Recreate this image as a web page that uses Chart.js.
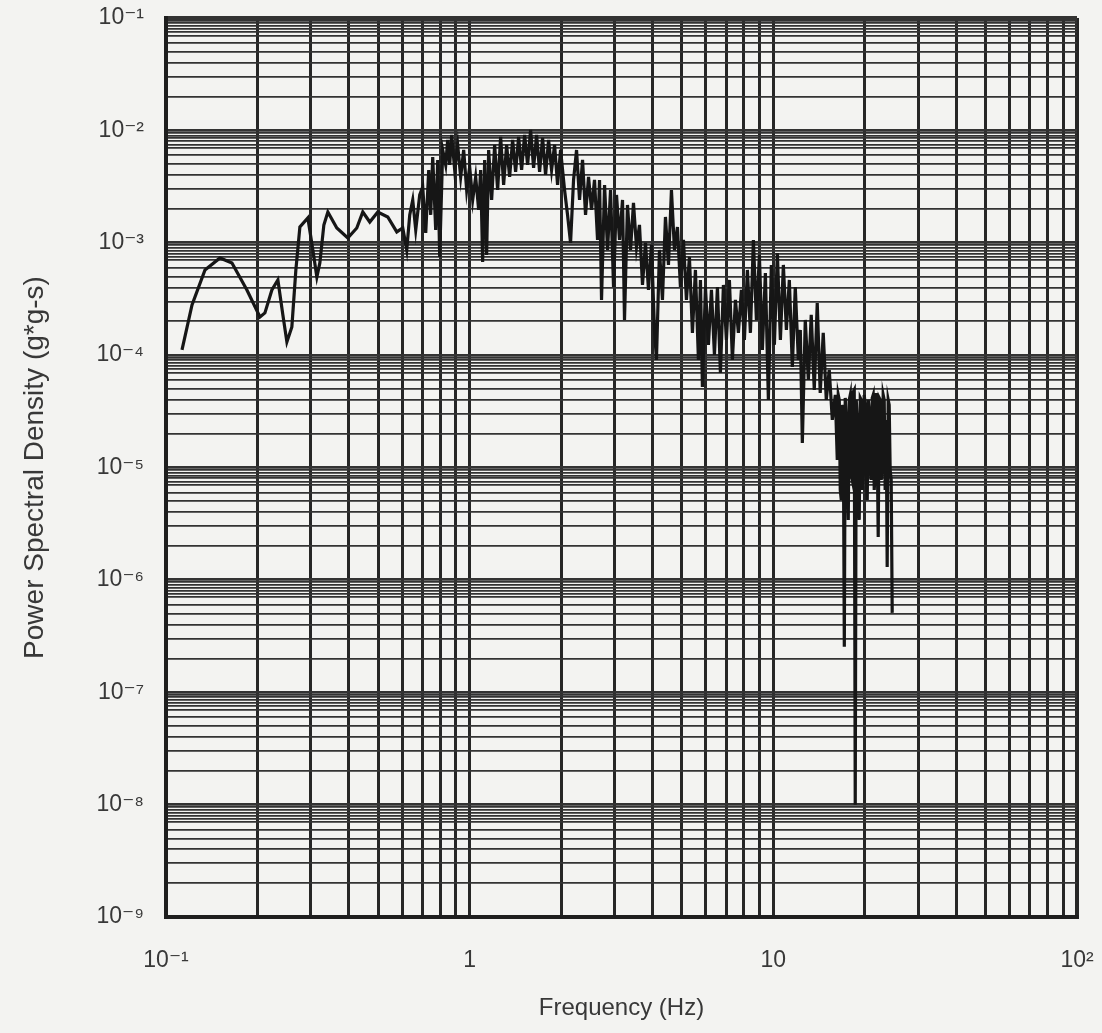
<!DOCTYPE html>
<html>
<head>
<meta charset="utf-8">
<script src="https://cdn.jsdelivr.net/npm/chart.js@4.4.1/dist/chart.umd.min.js"></script>
<style>
  html, body { margin: 0; padding: 0; background: #f3f3f1; }
  canvas { display: block; }
</style>
</head>
<body>
<canvas id="psdChart" width="1102" height="1033"></canvas>
<script>
// PSD trace: frequency (Hz) and power spectral density (g*g-s)
const freqHz = [
  0.1129, 0.1218, 0.1344, 0.1506, 0.1649, 0.1847, 0.2039, 0.2117, 0.2232, 0.2336,
  0.2426, 0.2501, 0.2597, 0.2677, 0.2760, 0.2932, 0.3045, 0.3139, 0.3211, 0.3310,
  0.3412, 0.3652, 0.3969, 0.4249, 0.4447, 0.4689, 0.4982, 0.5374, 0.5754, 0.6021,
  0.6206,
  0.6348, 0.6494, 0.6643, 0.6847, 0.7005, 0.7166, 0.7331, 0.7442, 0.7556, 0.7729,
  0.7848, 0.7967, 0.8151, 0.8338, 0.8465, 0.8594, 0.8725, 0.8926, 0.9131, 0.9341,
  0.9555, 0.9775, 1.000, 1.023, 1.0465, 1.0706, 1.0868, 1.1034, 1.1203, 1.1374,
  1.1548, 1.1813, 1.2085, 1.2362, 1.2646, 1.2937, 1.3234, 1.3539, 1.3850, 1.4168,
  1.4494, 1.4827, 1.5168, 1.5517, 1.5873, 1.6238, 1.6611, 1.6993, 1.7384, 1.7783,
  1.8192, 1.8610, 1.9038, 1.9475, 1.9923, 2.0535, 2.1007, 2.1490, 2.1984, 2.2489,
  2.3006, 2.3535, 2.4076, 2.4629, 2.5195,
  2.577, 2.637, 2.677, 2.718, 2.781, 2.845, 2.910, 2.977, 3.045, 3.115,
  3.187, 3.235, 3.309, 3.386, 3.463, 3.543, 3.624, 3.708, 3.793, 3.880,
  3.969, 4.061, 4.122, 4.217, 4.314, 4.413, 4.515, 4.618, 4.725, 4.833,
  4.944, 5.058, 5.174, 5.293, 5.415, 5.539, 5.667, 5.754, 5.841, 5.976,
  6.113, 6.254, 6.398, 6.545, 6.695, 6.849, 7.006, 7.167, 7.332, 7.501,
  7.673, 7.850, 8.030, 8.215, 8.404, 8.597, 8.794, 8.997, 9.203, 9.415,
  9.631, 9.850, 10.08, 10.31, 10.55, 10.79, 11.04, 11.29, 11.55, 11.81,
  12.09, 12.27, 12.46, 12.74, 13.04, 13.33, 13.64, 13.95, 14.27, 14.60,
  14.94, 15.28, 15.64, 16.00,
  16.24, 16.36, 16.49, 16.61, 16.74, 16.87, 16.99, 17.13, 17.25, 17.39,
  17.52, 17.65, 17.78, 17.92, 18.05, 18.19, 18.33, 18.47, 18.61, 18.75,
  18.89, 19.04, 19.18, 19.33, 19.47, 19.62, 19.77, 19.92, 20.07, 20.23,
  20.38, 20.54, 20.69, 20.85, 21.00, 21.17, 21.32, 21.49, 21.66, 21.82,
  21.99, 22.15, 22.32, 22.49, 22.66, 22.83, 23.00, 23.18, 23.35, 23.53,
  23.71, 23.89, 24.07, 24.25, 24.44, 24.63
];

const psd = [
  1.112e-4, 2.797e-4, 5.728e-4, 7.324e-4, 6.611e-4, 3.802e-4, 2.187e-4, 2.374e-4, 3.802e-4, 4.667e-4,
  2.279e-4, 1.310e-4, 1.782e-4, 5.728e-4, 1.382e-3, 1.662e-3, 8.628e-4, 4.963e-4, 6.611e-4, 1.440e-3,
  1.879e-3, 1.354e-3, 1.103e-3, 1.354e-3, 1.879e-3, 1.531e-3, 1.879e-3, 1.696e-3, 1.248e-3, 1.354e-3,
  8.628e-4,
  1.768e-3, 2.403e-3, 1.300e-3, 2.663e-3, 3.136e-3, 1.222e-3, 4.443e-3, 1.768e-3, 5.799e-3, 1.300e-3,
  5.454e-3, 7.476e-4, 6.693e-3, 4.923e-3, 8.215e-3, 4.923e-3, 9.101e-3, 4.443e-3, 7.415e-3, 3.849e-3,
  6.693e-3, 2.949e-3, 4.725e-3, 2.403e-3, 3.849e-3, 1.958e-3, 4.443e-3, 6.748e-4, 5.454e-3, 7.787e-4,
  6.693e-3, 2.403e-3, 7.415e-3, 2.949e-3, 8.737e-3, 3.268e-3, 7.415e-3, 3.849e-3, 8.215e-3, 4.265e-3,
  8.737e-3, 4.443e-3, 9.101e-3, 4.923e-3, 1.008e-2, 4.629e-3, 9.101e-3, 4.265e-3, 8.558e-3, 4.010e-3,
  8.215e-3, 4.443e-3, 7.415e-3, 3.268e-3, 6.693e-3, 2.949e-3, 1.768e-3, 9.959e-4, 3.621e-3, 6.693e-3,
  2.403e-3, 5.454e-3, 1.768e-3, 3.849e-3, 1.958e-3,
  3.621e-3, 1.059e-3, 3.621e-3, 3.098e-4, 3.268e-3, 8.628e-4, 2.949e-3, 4.043e-4, 2.663e-3, 1.059e-3,
  2.403e-3, 2.057e-4, 2.169e-3, 8.628e-4, 2.260e-3, 9.175e-4, 1.440e-3, 4.213e-4, 9.959e-4, 3.802e-4,
  9.560e-4, 1.676e-4, 9.063e-5, 8.628e-4, 3.098e-4, 1.696e-3, 6.346e-4, 2.949e-3, 8.628e-4, 1.382e-3,
  4.043e-4, 1.059e-3, 3.098e-4, 7.476e-4, 1.576e-4, 5.728e-4, 9.063e-5, 4.667e-4, 5.213e-5, 4.043e-4,
  1.233e-4, 3.802e-4, 1.004e-4, 4.043e-4, 6.944e-5, 4.213e-4, 1.365e-4, 4.667e-4, 9.063e-5, 3.098e-4,
  1.576e-4, 3.802e-4, 1.365e-4, 5.728e-4, 1.576e-4, 1.059e-3, 2.057e-4, 7.787e-4, 1.112e-4, 5.387e-4,
  3.994e-5, 6.346e-4, 1.233e-4, 8.114e-4, 1.365e-4, 6.346e-4, 1.676e-4, 4.667e-4, 7.852e-5, 4.043e-4,
  9.063e-5, 1.676e-4, 1.655e-5, 2.057e-4, 6.018e-5, 2.279e-4, 4.902e-5, 2.913e-4, 4.609e-5, 1.576e-4,
  3.994e-5, 7.384e-5, 2.652e-5, 4.425e-5,
  1.168e-5, 4.425e-5, 3.994e-5, 6.320e-6, 5.149e-6, 3.606e-5, 3.255e-5, 2.535e-7, 4.161e-5, 2.652e-5,
  9.520e-6, 3.419e-6, 3.994e-5, 4.425e-5, 8.593e-6, 7.756e-6, 4.705e-5, 4.902e-5, 9.959e-9, 3.994e-5,
  2.652e-5, 7.001e-6, 3.419e-6, 4.161e-5, 3.994e-5, 6.320e-6, 9.520e-6, 4.425e-5, 3.606e-5, 7.756e-6,
  5.149e-6, 3.994e-5, 3.255e-5, 9.520e-6, 7.756e-6, 4.161e-5, 4.425e-5, 6.320e-6, 9.520e-6, 4.609e-5,
  1.434e-5, 2.413e-6, 4.161e-5, 3.994e-5, 7.756e-6, 9.520e-6, 4.425e-5, 3.994e-5, 6.320e-6, 2.652e-5,
  1.305e-6, 3.994e-5, 3.606e-5, 9.520e-6, 7.756e-6, 5.086e-7
];

// log paper grid: decades and the subdivisions ruled in each decade
const xDecades = [-1, 0, 1];
const xSteps = [1, 2, 3, 4, 5, 6, 7, 8, 9];
const yDecades = [-9, -8, -7, -6, -5, -4, -3, -2];
const ySteps = [1, 2, 3, 4, 5, 6, 7, 7.5, 8, 8.5, 9, 9.5];

const SUP = { '-': '\u207B', '0': '\u2070', '1': '\u00B9', '2': '\u00B2', '3': '\u00B3',
  '4': '\u2074', '5': '\u2075', '6': '\u2076', '7': '\u2077', '8': '\u2078', '9': '\u2079' };

function isDecade(v) {
  const e = Math.log10(v);
  return Math.abs(e - Math.round(e)) < 1e-9;
}

function powerLabel(v, plainSmall) {
  const e = Math.round(Math.log10(v));
  if (plainSmall && e === 0) return '1';
  if (plainSmall && e === 1) return '10';
  return '10' + String(e).split('').map(c => SUP[c]).join('');
}

function gridTicks(decades, steps, last) {
  const out = [];
  decades.forEach(d => steps.forEach(s => out.push({ value: s * Math.pow(10, d) })));
  out.push({ value: last });
  return out;
}

// keep the plot frame where it is in the reference, whatever the edge labels need
function noEdgePadding(scale) {
  scale.paddingTop = 0;
  scale.paddingBottom = 0;
  scale.paddingLeft = 0;
  scale.paddingRight = 0;
}

const fontFamily = '"Liberation Sans", Arial, "DejaVu Sans", sans-serif';
const labelFont = { family: fontFamily, size: 23 };

const ctx = document.getElementById('psdChart').getContext('2d');
new Chart(ctx, {
  type: 'line',
  data: {
    datasets: [{
      data: freqHz.map((f, i) => ({ x: f, y: psd[i] })),
      borderColor: '#161616',
      borderWidth: 3.2,
      pointRadius: 0,
      tension: 0,
      fill: false
    }]
  },
  options: {
    responsive: false,
    animation: false,
    layout: { padding: { top: 18, right: 25, left: 0, bottom: 0 } },
    plugins: { legend: { display: false }, tooltip: { enabled: false } },
    scales: {
      x: {
        type: 'logarithmic',
        min: 0.1,
        max: 100,
        afterBuildTicks: scale => { scale.ticks = gridTicks(xDecades, xSteps, 100); },
        afterFit: scale => { scale.height = 116; noEdgePadding(scale); },
        ticks: {
          autoSkip: false,
          minRotation: 0,
          maxRotation: 0,
          padding: 30,
          color: '#383838',
          font: labelFont,
          callback: v => isDecade(v) ? powerLabel(v, true) : ''
        },
        grid: {
          drawTicks: false,
          color: '#262626',
          lineWidth: c => (c.tick && (c.tick.value === 0.1 || c.tick.value === 100)) ? 4 : 3
        },
        border: { display: true, color: '#1e1e1e', width: 4 },
        title: {
          display: true,
          text: 'Frequency (Hz)',
          color: '#383838',
          font: { family: fontFamily, size: 24 },
          padding: { top: 0, bottom: 10 }
        }
      },
      y: {
        type: 'logarithmic',
        min: 1e-9,
        max: 1e-1,
        afterBuildTicks: scale => { scale.ticks = gridTicks(yDecades, ySteps, 0.1); },
        afterFit: scale => { scale.width = 166; noEdgePadding(scale); },
        ticks: {
          autoSkip: false,
          padding: 22,
          color: '#383838',
          font: labelFont,
          callback: v => isDecade(v) ? powerLabel(v, false) : ''
        },
        grid: {
          drawTicks: false,
          color: '#333',
          lineWidth: c => {
            if (!c.tick) return 1.8;
            if (c.tick.value >= 0.0999) return 4;
            return isDecade(c.tick.value) ? 2.8 : 1.8;
          }
        },
        border: { display: true, color: '#1e1e1e', width: 4 },
        title: {
          display: true,
          text: 'Power Spectral Density (g*g-s)',
          color: '#383838',
          font: { family: fontFamily, size: 28 },
          padding: { top: 18, bottom: 0 }
        }
      }
    }
  }
});
</script>
</body>
</html>
